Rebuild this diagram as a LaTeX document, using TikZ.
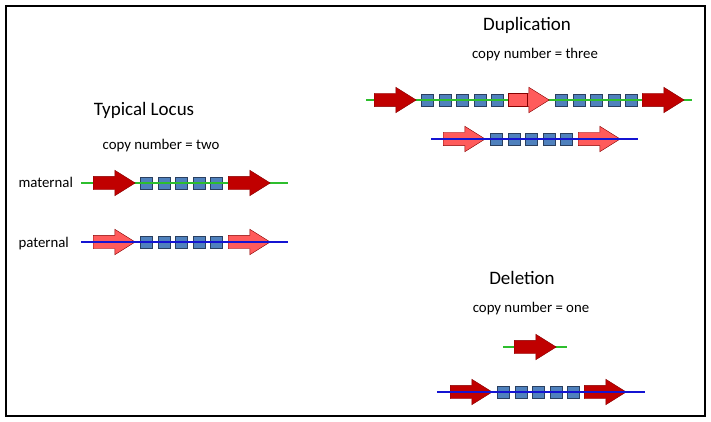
\documentclass[tikz,border=0pt]{standalone}
\usepackage{fontspec}
\setmainfont{Carlito}
\usepackage{tikz}
\usetikzlibrary{shapes.arrows}

\definecolor{darkred}{HTML}{C00000}
\definecolor{lightred}{HTML}{FF5B5B}
\definecolor{boxblue}{HTML}{4F81BD}
\definecolor{boxedge}{HTML}{2A3F5F}
\definecolor{lgreen}{HTML}{2DBE2D}
\definecolor{lblue}{HTML}{1414D2}

\tikzset{
  gene/.style={single arrow, draw=darkred!70!black, anchor=west, inner xsep=0pt, inner ysep=6.5pt,
    minimum height=42pt, single arrow head extend=6pt,
    single arrow tip angle=64},
  dgene/.style={gene, fill=darkred},
  pgene/.style={gene, fill=lightred},
  repeatbox/.style={draw=boxedge, fill=boxblue, anchor=west, minimum size=12pt, inner sep=0pt},
  strand/.style={line width=1.6pt},
  title/.style={font=\fontsize{19}{22}\selectfont},
  label/.style={font=\fontsize{14.8}{17}\selectfont}
}

\begin{document}
\begin{tikzpicture}[x=1pt,y=-1pt]
\useasboundingbox (0,0) rectangle (711,422);
\draw[line width=2pt] (6,6) rectangle (705,416);

% typical locus
\node[title] (tl) at (144,110) {Typical Locus};
\node[label] (tlc) at (161,146) {copy number = two};
\node[label, anchor=west] (mat) at (15,182) {maternal};
\node[label, anchor=west] (pat) at (15,244) {paternal};

% maternal
\coordinate (m0) at (81,183);
\coordinate (m1) at (288,183);
\foreach \i/\x in {1/140,2/157.5,3/175,4/192.5,5/210}
    \node[repeatbox] (mb\i) at (\x,183) {};
\draw[strand, lgreen] (m0) -- (m1);
\node[dgene] (ma) at (93,183) {};
\node[dgene] (mc) at (228,183) {};

% paternal
\coordinate (p0) at (81,242);
\coordinate (p1) at (288,242);
\node[pgene] (pa) at (93,242) {};
\node[pgene] (pc) at (228,242) {};
\foreach \i/\x in {1/140,2/157.5,3/175,4/192.5,5/210}
    \node[repeatbox] (pb\i) at (\x,242) {};
\draw[strand, lblue] (p0) -- (p1);

% duplication
\node[title] (dup) at (527,25) {Duplication};
\node[label] (dupc) at (535,55) {copy number = three};

\coordinate (d0) at (366,100);
\coordinate (d1) at (692,100);
\foreach \i/\x in {1/421,2/438.5,3/456,4/473.5,5/491,6/555,7/572.5,8/590,9/607.5,10/625}
    \node[repeatbox] (db\i) at (\x,100) {};
\draw[strand, lgreen] (d0) -- (d1);
\node[dgene] (da) at (374,100) {};
\node[pgene, minimum height=41pt] (db) at (508,100) {};
\draw[darkred!70!black, fill=lightred] (508,93.5) rectangle (527,106.5);
\node[dgene] (dc) at (642,100) {};

\coordinate (e0) at (431,139);
\coordinate (e1) at (638,139);
\node[pgene] (ea) at (443,139) {};
\node[pgene] (ec) at (578,139) {};
\foreach \i/\x in {1/490,2/507.5,3/525,4/542.5,5/560}
    \node[repeatbox] (eb\i) at (\x,139) {};
\draw[strand, lblue] (e0) -- (e1);

% deletion
\node[title] (del) at (522,278) {Deletion};
\node[label] (delc) at (531,309) {copy number = one};

\coordinate (g0) at (503,347);
\coordinate (g1) at (567,347);
\draw[strand, lgreen] (g0) -- (g1);
\node[dgene] (ga) at (514,347) {};

\coordinate (h0) at (437,392);
\coordinate (h1) at (645,392);
\node[dgene] (ha) at (450,392) {};
\node[dgene] (hc) at (584,392) {};
\foreach \i/\x in {1/497,2/514.5,3/532,4/549.5,5/567}
    \node[repeatbox] (hb\i) at (\x,392) {};
\draw[strand, lblue] (h0) -- (h1);
\end{tikzpicture}
\end{document}
